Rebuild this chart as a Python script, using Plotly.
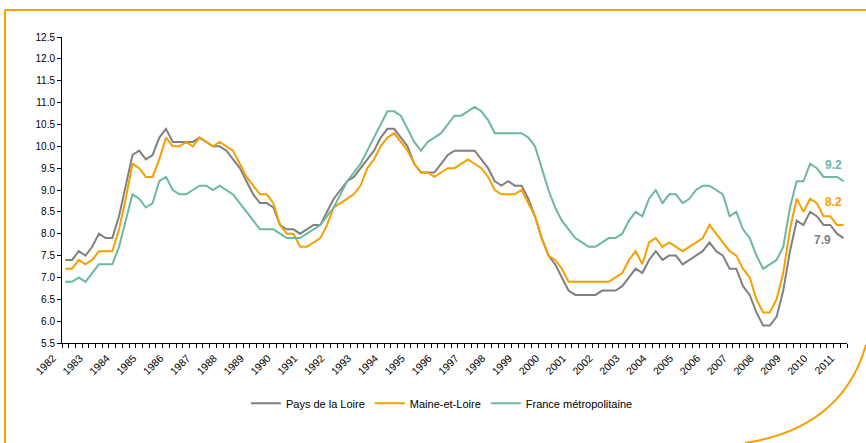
import plotly.graph_objects as go

# Quarterly unemployment rate (%), 1982 Q1 onwards
years = list(range(1982, 2012))

pays_de_la_loire = [
    7.4, 7.4, 7.6, 7.5, 7.7, 8.0, 7.9, 7.9, 8.4, 9.1,
    9.8, 9.9, 9.7, 9.8, 10.2, 10.4, 10.1, 10.1, 10.1, 10.1,
    10.2, 10.1, 10.0, 10.0, 9.9, 9.7, 9.5, 9.2, 8.9, 8.7,
    8.7, 8.6, 8.2, 8.1, 8.1, 8.0, 8.1, 8.2, 8.2, 8.5,
    8.8, 9.0, 9.2, 9.3, 9.5, 9.7, 9.9, 10.2, 10.4, 10.4,
    10.2, 10.0, 9.6, 9.4, 9.4, 9.4, 9.6, 9.8, 9.9, 9.9,
    9.9, 9.9, 9.7, 9.5, 9.2, 9.1, 9.2, 9.1, 9.1, 8.8,
    8.4, 7.9, 7.5, 7.3, 7.0, 6.7, 6.6, 6.6, 6.6, 6.6,
    6.7, 6.7, 6.7, 6.8, 7.0, 7.2, 7.1, 7.4, 7.6, 7.4,
    7.5, 7.5, 7.3, 7.4, 7.5, 7.6, 7.8, 7.6, 7.5, 7.2,
    7.2, 6.8, 6.6, 6.2, 5.9, 5.9, 6.1, 6.7, 7.6, 8.3,
    8.2, 8.5, 8.4, 8.2, 8.2, 8.0, 7.9,
]

maine_et_loire = [
    7.2, 7.2, 7.4, 7.3, 7.4, 7.6, 7.6, 7.6, 8.1, 8.8,
    9.6, 9.5, 9.3, 9.3, 9.7, 10.2, 10.0, 10.0, 10.1, 10.0,
    10.2, 10.1, 10.0, 10.1, 10.0, 9.9, 9.6, 9.3, 9.1, 8.9,
    8.9, 8.7, 8.2, 8.0, 8.0, 7.7, 7.7, 7.8, 7.9, 8.2,
    8.6, 8.7, 8.8, 8.9, 9.1, 9.5, 9.7, 10.0, 10.2, 10.3,
    10.1, 9.9, 9.6, 9.4, 9.4, 9.3, 9.4, 9.5, 9.5, 9.6,
    9.7, 9.6, 9.5, 9.3, 9.0, 8.9, 8.9, 8.9, 9.0, 8.7,
    8.4, 7.9, 7.5, 7.4, 7.2, 6.9, 6.9, 6.9, 6.9, 6.9,
    6.9, 6.9, 7.0, 7.1, 7.4, 7.6, 7.3, 7.8, 7.9, 7.7,
    7.8, 7.7, 7.6, 7.7, 7.8, 7.9, 8.2, 8.0, 7.8, 7.6,
    7.5, 7.2, 7.0, 6.5, 6.2, 6.2, 6.5, 7.1, 8.1, 8.8,
    8.5, 8.8, 8.7, 8.4, 8.4, 8.2, 8.2,
]

france_metro = [
    6.9, 6.9, 7.0, 6.9, 7.1, 7.3, 7.3, 7.3, 7.7, 8.3,
    8.9, 8.8, 8.6, 8.7, 9.2, 9.3, 9.0, 8.9, 8.9, 9.0,
    9.1, 9.1, 9.0, 9.1, 9.0, 8.9, 8.7, 8.5, 8.3, 8.1,
    8.1, 8.1, 8.0, 7.9, 7.9, 7.9, 8.0, 8.1, 8.2, 8.4,
    8.6, 8.9, 9.2, 9.4, 9.6, 9.9, 10.2, 10.5, 10.8, 10.8,
    10.7, 10.4, 10.1, 9.9, 10.1, 10.2, 10.3, 10.5, 10.7, 10.7,
    10.8, 10.9, 10.8, 10.6, 10.3, 10.3, 10.3, 10.3, 10.3, 10.2,
    10.0, 9.5, 9.0, 8.6, 8.3, 8.1, 7.9, 7.8, 7.7, 7.7,
    7.8, 7.9, 7.9, 8.0, 8.3, 8.5, 8.4, 8.8, 9.0, 8.7,
    8.9, 8.9, 8.7, 8.8, 9.0, 9.1, 9.1, 9.0, 8.9, 8.4,
    8.5, 8.1, 7.9, 7.5, 7.2, 7.3, 7.4, 7.7, 8.6, 9.2,
    9.2, 9.6, 9.5, 9.3, 9.3, 9.3, 9.2,
]

series_names = ["Pays de la Loire", "Maine-et-Loire", "France métropolitaine"]
series_values = [pays_de_la_loire, maine_et_loire, france_metro]
series_colors = ["#808080", "#F5A000", "#6DB8A2"]

n = len(pays_de_la_loire)
x_pos = list(range(n))

fig = go.Figure()
for name, vals, col in zip(series_names, series_values, series_colors):
    fig.add_trace(go.Scatter(x=x_pos, y=vals, mode="lines", name=name,
                             line=dict(color=col, width=2)))

# ticks at category boundaries, year labels every 4 quarters
tick_vals = [k - 0.5 for k in range(n + 1)]
tick_text = []
for k in range(n + 1):
    if k % 4 == 0 and k // 4 < len(years):
        tick_text.append(str(years[k // 4]))
    else:
        tick_text.append("")

FONT = "Liberation Sans, Arial, sans-serif"

fig.update_layout(
    width=866, height=443,
    margin=dict(l=62, r=19, t=37, b=100),
    paper_bgcolor="white", plot_bgcolor="white",
    font=dict(family=FONT, size=10, color="#000000"),
    showlegend=True,
    legend=dict(orientation="h", x=0.484, xanchor="center", y=-0.197, yanchor="middle",
                font=dict(size=11, family=FONT), itemwidth=30, tracegroupgap=0),
    xaxis=dict(range=[-0.5, n - 0.5], tickmode="array", tickvals=tick_vals, ticktext=tick_text,
               tickangle=-45, ticks="outside", ticklen=4, tickcolor="#000", tickwidth=1,
               ticklabelshift=-9,
               showline=True, linecolor="#000", linewidth=1, showgrid=False, zeroline=False,
               tickfont=dict(size=10.5, family=FONT)),
    yaxis=dict(range=[5.5, 12.5], dtick=0.5, tick0=5.5, tickformat=".1f",
               ticks="outside", ticklen=4, tickcolor="#000", tickwidth=1,
               showline=True, linecolor="#000", linewidth=1, showgrid=False, zeroline=False,
               tickfont=dict(size=10, family=FONT)),
)

# end-of-series value labels
end_labels = [
    (france_metro, series_colors[2], 0, 16),
    (maine_et_loire, series_colors[1], 0, 23),
    (pays_de_la_loire, series_colors[0], -11, -2),
]
for vals, col, xs, ys in end_labels:
    fig.add_annotation(x=n - 1, y=vals[-1], xref="x", yref="y", text=f"{vals[-1]:.1f}",
                       showarrow=False, xanchor="right", yanchor="middle", xshift=xs, yshift=ys,
                       font=dict(size=12, color=col, family=FONT, weight="bold"))

# decorative orange frame (paper coordinates relative to plot area)
def px(xp):
    return (xp - 62) / 785.0

def py(yp):
    return (343 - yp) / 306.0

frame_col = "#F5A000"
fig.add_shape(type="line", xref="paper", yref="paper", x0=px(5), y0=py(10), x1=px(866), y1=py(10),
              line=dict(color=frame_col, width=2), layer="below")
fig.add_shape(type="line", xref="paper", yref="paper", x0=px(5), y0=py(10), x1=px(5), y1=py(443),
              line=dict(color=frame_col, width=2), layer="below")
arc = (f"M {px(866)},{py(345)} Q {px(842)},{py(428)} {px(745)},{py(443)}")
fig.add_shape(type="path", xref="paper", yref="paper", path=arc,
              line=dict(color=frame_col, width=2), layer="below")

fig.write_html("out.html", config={"displayModeBar": False},
               post_script="document.body.style.margin='0';document.body.style.overflow='hidden';")
